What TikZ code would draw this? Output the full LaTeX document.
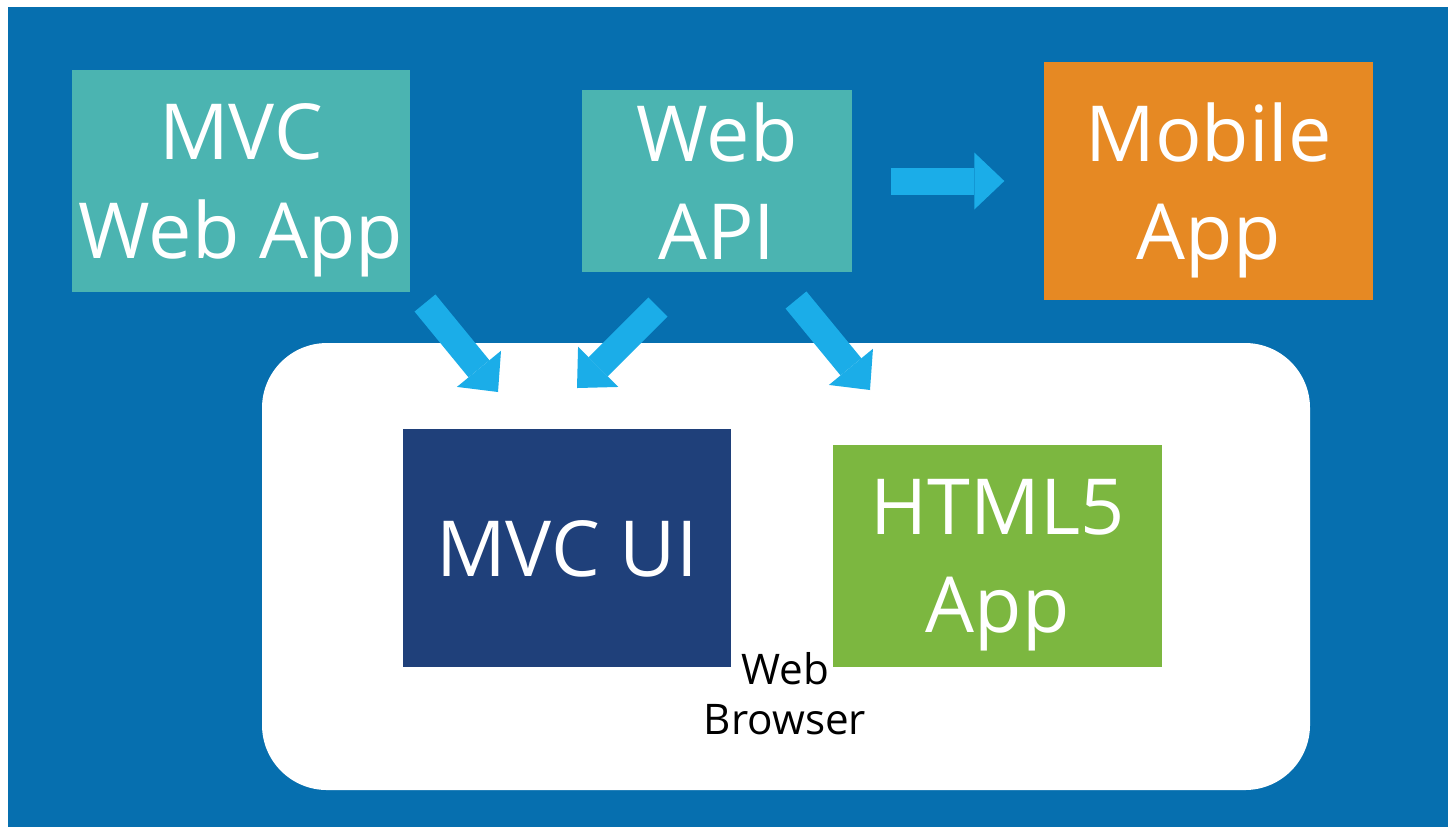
\documentclass[tikz,border=0pt]{standalone}
\usepackage{fontspec}
\setmainfont{Open Sans}
\usepackage{tikz}
\usetikzlibrary{arrows.meta, positioning}
\definecolor{mybg}{RGB}{6,111,175}
\definecolor{myteal}{RGB}{75,180,177}
\definecolor{myorange}{RGB}{230,137,35}
\definecolor{mynavy}{RGB}{31,64,122}
\definecolor{mygreen}{RGB}{124,183,64}
\definecolor{myarrow}{RGB}{27,173,232}
\tikzset{
  block/.style={rectangle, inner sep=0pt, align=center, text=white,
    font=\fontsize{22}{28}\selectfont, text depth=0pt},
  bigarrow/.style={draw=myarrow, line width=0.27cm,
    -{Triangle[length=0.3cm, width=0.57cm, line width=0pt]}}
}

\begin{document}
\begin{tikzpicture}
  \useasboundingbox (0,0) rectangle (14.55,-8.27);
  % Slide background
  \fill[mybg] (0.08,-0.07) rectangle (14.48,-8.27);

  % Web browser area (white, rounded)
  \node[fill=white, rounded corners=0.65cm, minimum width=10.48cm, minimum height=4.47cm] (browser) at (7.86,-5.665) {};

  % Server side
  \node[block, fill=myteal, minimum width=3.38cm, minimum height=2.22cm] (mvcweb) at (2.41,-1.81) {MVC\\Web App};
  \node[block, fill=myteal, minimum width=2.70cm, minimum height=1.82cm] (webapi) at (7.17,-1.81) {Web\\API};
  \node[block, fill=myorange, minimum width=3.29cm, minimum height=2.38cm] (mobile) at (12.085,-1.81) {Mobile\\App};

  % Client side, inside the browser
  \node[block, fill=mynavy, minimum width=3.28cm, minimum height=2.38cm] (mvcui) at (5.67,-5.48) {MVC UI};
  \node[block, fill=mygreen, minimum width=3.29cm, minimum height=2.22cm] (html5) at (9.975,-5.56) {HTML5\\App};
  \node[font=\fontsize{12}{14.2}\selectfont, align=center, inner sep=0pt] (browserlbl) at (7.85,-6.94) {Web\\Browser};

  % Arrows
  \coordinate (a1s) at (4.25,-3.03);
  \coordinate (a1e) at (4.98,-3.92);
  \coordinate (a2s) at (6.58,-3.07);
  \coordinate (a2e) at (5.77,-3.88);
  \coordinate (a3s) at (7.96,-3.00);
  \coordinate (a3e) at (8.70,-3.90);
  \draw[bigarrow] (a1s) -- (a1e);
  \draw[bigarrow] (a2s) -- (a2e);
  \draw[bigarrow] (a3s) -- (a3e);
  \draw[bigarrow, shorten <=0.38cm, shorten >=0.39cm] (webapi.east) -- (mobile.west);
\end{tikzpicture}
\end{document}
